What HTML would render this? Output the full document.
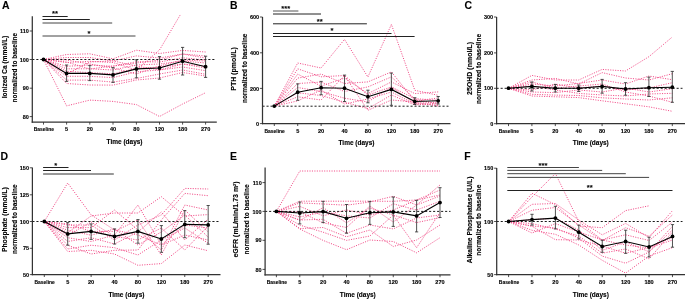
<!DOCTYPE html>
<html><head><meta charset="utf-8"><style>
html,body{margin:0;padding:0;background:#fff;}
body{width:685px;height:299px;overflow:hidden;}
svg{display:block;font-family:"Liberation Sans", sans-serif;will-change:transform;}
</style></head><body>
<svg width="685" height="299" viewBox="0 0 685 299">
<rect width="685" height="299" fill="#fff"/>
<text transform="translate(1.9,8.6) scale(0.9,1)" font-size="11.6" font-weight="bold" text-anchor="start" fill="#000"  stroke="#000" stroke-width="0.12">A</text>
<text transform="translate(6.8,67.1) rotate(-90)" textLength="62.40" lengthAdjust="spacingAndGlyphs" font-size="7.3" font-weight="bold" text-anchor="middle" fill="#000"  stroke="#000" stroke-width="0.12">Ionized Ca (mmol/L)</text>
<text transform="translate(16.5,67.75) rotate(-90)" textLength="69.50" lengthAdjust="spacingAndGlyphs" font-size="7.3" font-weight="bold" text-anchor="middle" fill="#000"  stroke="#000" stroke-width="0.12">normalized to baseline</text>
<clipPath id="cA"><rect x="32.3" y="14.8" width="184.5" height="107.4"/></clipPath>
<g clip-path="url(#cA)">
<polyline points="43.5,59.5 66.6,54.5 89.8,53.8 113.0,58.8 136.4,50.2 159.5,53.5 182.6,50.4 205.6,52.0" fill="none" stroke="#f2508a" stroke-width="1" stroke-dasharray="1.1 1.35"/>
<polyline points="43.5,59.5 66.6,57.5 89.8,57.5 113.0,60.9 136.4,55.9 159.5,58.0 182.6,54.0 205.6,56.0" fill="none" stroke="#f2508a" stroke-width="1" stroke-dasharray="1.1 1.35"/>
<polyline points="43.5,59.5 66.6,62.5 89.8,61.3 113.0,62.5 136.4,70.0 159.5,50.0 182.6,10.9" fill="none" stroke="#f2508a" stroke-width="1" stroke-dasharray="1.1 1.35"/>
<polyline points="43.5,59.5 66.6,66.3 89.8,65.0 113.0,66.3 136.4,61.7 159.5,62.0 182.6,57.8 205.6,60.0" fill="none" stroke="#f2508a" stroke-width="1" stroke-dasharray="1.1 1.35"/>
<polyline points="43.5,59.5 66.6,68.8 89.8,68.8 113.0,70.0 136.4,65.0 159.5,64.0 182.6,61.0 205.6,63.0" fill="none" stroke="#f2508a" stroke-width="1" stroke-dasharray="1.1 1.35"/>
<polyline points="43.5,59.5 66.6,71.3 89.8,72.6 113.0,73.8 136.4,68.4 159.5,67.0 182.6,64.0 205.6,66.0" fill="none" stroke="#f2508a" stroke-width="1" stroke-dasharray="1.1 1.35"/>
<polyline points="43.5,59.5 66.6,76.3 89.8,76.3 113.0,77.6 136.4,71.8 159.5,70.0 182.6,67.0 205.6,70.7" fill="none" stroke="#f2508a" stroke-width="1" stroke-dasharray="1.1 1.35"/>
<polyline points="43.5,59.5 66.6,80.1 89.8,80.1 113.0,82.1 136.4,78.5 159.5,74.0 182.6,70.0 205.6,74.3" fill="none" stroke="#f2508a" stroke-width="1" stroke-dasharray="1.1 1.35"/>
<polyline points="43.5,59.5 66.6,83.5 89.8,85.0 113.0,85.1 136.4,80.0 159.5,78.0 182.6,72.5 205.6,76.0" fill="none" stroke="#f2508a" stroke-width="1" stroke-dasharray="1.1 1.35"/>
<polyline points="43.5,59.5 66.6,105.9 89.8,100.1 113.0,101.4 136.4,104.6 159.5,116.5 182.6,104.0 205.6,92.7" fill="none" stroke="#f2508a" stroke-width="1" stroke-dasharray="1.1 1.35"/>
<polyline points="43.5,59.5 66.6,62.0 89.8,69.0 113.0,66.0 136.4,63.0 159.5,60.0 182.6,54.0 205.6,58.0" fill="none" stroke="#f2508a" stroke-width="1" stroke-dasharray="1.1 1.35"/>
<polyline points="43.5,59.5 66.6,74.0 89.8,62.0 113.0,60.9 136.4,66.0 159.5,70.0 182.6,64.0 205.6,68.0" fill="none" stroke="#f2508a" stroke-width="1" stroke-dasharray="1.1 1.35"/>
<polyline points="43.5,59.5 66.6,60.0 89.8,64.0 113.0,68.0 136.4,74.0 159.5,66.0 182.6,60.0 205.6,61.0" fill="none" stroke="#f2508a" stroke-width="1" stroke-dasharray="1.1 1.35"/>
</g>
<line x1="32.30" y1="59.50" x2="216.30" y2="59.50" stroke="#000" stroke-width="0.9" stroke-dasharray="2.1 1.9"/>
<line x1="66.60" y1="65.00" x2="66.60" y2="81.40" stroke="#333" stroke-width="0.85" />
<line x1="65.00" y1="65.00" x2="68.20" y2="65.00" stroke="#333" stroke-width="0.85" />
<line x1="65.00" y1="81.40" x2="68.20" y2="81.40" stroke="#333" stroke-width="0.85" />
<line x1="89.80" y1="65.60" x2="89.80" y2="80.60" stroke="#333" stroke-width="0.85" />
<line x1="88.20" y1="65.60" x2="91.40" y2="65.60" stroke="#333" stroke-width="0.85" />
<line x1="88.20" y1="80.60" x2="91.40" y2="80.60" stroke="#333" stroke-width="0.85" />
<line x1="113.00" y1="67.60" x2="113.00" y2="82.40" stroke="#333" stroke-width="0.85" />
<line x1="111.40" y1="67.60" x2="114.60" y2="67.60" stroke="#333" stroke-width="0.85" />
<line x1="111.40" y1="82.40" x2="114.60" y2="82.40" stroke="#333" stroke-width="0.85" />
<line x1="136.40" y1="59.90" x2="136.40" y2="77.80" stroke="#333" stroke-width="0.85" />
<line x1="134.80" y1="59.90" x2="138.00" y2="59.90" stroke="#333" stroke-width="0.85" />
<line x1="134.80" y1="77.80" x2="138.00" y2="77.80" stroke="#333" stroke-width="0.85" />
<line x1="159.50" y1="56.60" x2="159.50" y2="79.20" stroke="#333" stroke-width="0.85" />
<line x1="157.90" y1="56.60" x2="161.10" y2="56.60" stroke="#333" stroke-width="0.85" />
<line x1="157.90" y1="79.20" x2="161.10" y2="79.20" stroke="#333" stroke-width="0.85" />
<line x1="182.60" y1="47.40" x2="182.60" y2="75.00" stroke="#333" stroke-width="0.85" />
<line x1="181.00" y1="47.40" x2="184.20" y2="47.40" stroke="#333" stroke-width="0.85" />
<line x1="181.00" y1="75.00" x2="184.20" y2="75.00" stroke="#333" stroke-width="0.85" />
<line x1="205.60" y1="56.20" x2="205.60" y2="77.40" stroke="#333" stroke-width="0.85" />
<line x1="204.00" y1="56.20" x2="207.20" y2="56.20" stroke="#333" stroke-width="0.85" />
<line x1="204.00" y1="77.40" x2="207.20" y2="77.40" stroke="#333" stroke-width="0.85" />
<polyline points="43.5,59.5 66.6,73.4 89.8,73.4 113.0,74.9 136.4,68.9 159.5,68.0 182.6,61.2 205.6,66.7" fill="none" stroke="#000" stroke-width="1.1"/>
<circle cx="43.5" cy="59.5" r="1.9" fill="#000"/>
<circle cx="66.6" cy="73.4" r="1.9" fill="#000"/>
<circle cx="89.8" cy="73.4" r="1.9" fill="#000"/>
<circle cx="113.0" cy="74.9" r="1.9" fill="#000"/>
<circle cx="136.4" cy="68.9" r="1.9" fill="#000"/>
<circle cx="159.5" cy="68.0" r="1.9" fill="#000"/>
<circle cx="182.6" cy="61.2" r="1.9" fill="#000"/>
<circle cx="205.6" cy="66.7" r="1.9" fill="#000"/>
<line x1="32.30" y1="16.30" x2="32.30" y2="122.80" stroke="#333" stroke-width="1.25" />
<line x1="31.70" y1="122.20" x2="216.80" y2="122.20" stroke="#333" stroke-width="1.25" />
<line x1="29.70" y1="116.60" x2="32.30" y2="116.60" stroke="#222" stroke-width="0.8" />
<text x="28.90" y="118.70" font-size="5.5" font-weight="bold" text-anchor="end" fill="#000"  stroke="#000" stroke-width="0.12">80</text>
<line x1="29.70" y1="88.20" x2="32.30" y2="88.20" stroke="#222" stroke-width="0.8" />
<text x="28.90" y="90.30" font-size="5.5" font-weight="bold" text-anchor="end" fill="#000"  stroke="#000" stroke-width="0.12">90</text>
<line x1="29.70" y1="59.50" x2="32.30" y2="59.50" stroke="#222" stroke-width="0.8" />
<text x="28.90" y="61.60" font-size="5.5" font-weight="bold" text-anchor="end" fill="#000"  stroke="#000" stroke-width="0.12">100</text>
<line x1="29.70" y1="31.00" x2="32.30" y2="31.00" stroke="#222" stroke-width="0.8" />
<text x="28.90" y="33.10" font-size="5.5" font-weight="bold" text-anchor="end" fill="#000"  stroke="#000" stroke-width="0.12">110</text>
<line x1="43.50" y1="122.20" x2="43.50" y2="124.60" stroke="#222" stroke-width="0.8" />
<text x="43.90" y="130.80" textLength="20.30" lengthAdjust="spacingAndGlyphs" font-size="5.3" font-weight="bold" text-anchor="middle" fill="#000"  stroke="#000" stroke-width="0.12">Baseline</text>
<line x1="66.60" y1="122.20" x2="66.60" y2="124.60" stroke="#222" stroke-width="0.8" />
<text x="66.60" y="131.00" font-size="5.6" font-weight="bold" text-anchor="middle" fill="#000"  stroke="#000" stroke-width="0.12">5</text>
<line x1="89.80" y1="122.20" x2="89.80" y2="124.60" stroke="#222" stroke-width="0.8" />
<text x="89.80" y="131.00" font-size="5.6" font-weight="bold" text-anchor="middle" fill="#000"  stroke="#000" stroke-width="0.12">20</text>
<line x1="113.00" y1="122.20" x2="113.00" y2="124.60" stroke="#222" stroke-width="0.8" />
<text x="113.00" y="131.00" font-size="5.6" font-weight="bold" text-anchor="middle" fill="#000"  stroke="#000" stroke-width="0.12">40</text>
<line x1="136.40" y1="122.20" x2="136.40" y2="124.60" stroke="#222" stroke-width="0.8" />
<text x="136.40" y="131.00" font-size="5.6" font-weight="bold" text-anchor="middle" fill="#000"  stroke="#000" stroke-width="0.12">80</text>
<line x1="159.50" y1="122.20" x2="159.50" y2="124.60" stroke="#222" stroke-width="0.8" />
<text x="159.50" y="131.00" font-size="5.6" font-weight="bold" text-anchor="middle" fill="#000"  stroke="#000" stroke-width="0.12">120</text>
<line x1="182.60" y1="122.20" x2="182.60" y2="124.60" stroke="#222" stroke-width="0.8" />
<text x="182.60" y="131.00" font-size="5.6" font-weight="bold" text-anchor="middle" fill="#000"  stroke="#000" stroke-width="0.12">180</text>
<line x1="205.60" y1="122.20" x2="205.60" y2="124.60" stroke="#222" stroke-width="0.8" />
<text x="205.60" y="131.00" font-size="5.6" font-weight="bold" text-anchor="middle" fill="#000"  stroke="#000" stroke-width="0.12">270</text>
<text x="124.55" y="143.80" textLength="36.00" lengthAdjust="spacingAndGlyphs" font-size="6.5" font-weight="bold" text-anchor="middle" fill="#000"  stroke="#000" stroke-width="0.12">Time (days)</text>
<line x1="42.50" y1="16.50" x2="67.70" y2="16.50" stroke="#222" stroke-width="1" />
<line x1="42.50" y1="19.50" x2="89.80" y2="19.50" stroke="#222" stroke-width="1" />
<line x1="42.50" y1="23.00" x2="112.20" y2="23.00" stroke="#444" stroke-width="1" />
<line x1="42.50" y1="36.00" x2="135.50" y2="36.00" stroke="#444" stroke-width="1" />
<text x="55.00" y="16.00" font-size="7.6" font-weight="bold" text-anchor="middle" fill="#000"  stroke="#000" stroke-width="0.12">**</text>
<text x="89.00" y="35.50" font-size="7.6" font-weight="bold" text-anchor="middle" fill="#000"  stroke="#000" stroke-width="0.12">*</text>
<text transform="translate(229.9,8.6) scale(0.9,1)" font-size="11.6" font-weight="bold" text-anchor="start" fill="#000"  stroke="#000" stroke-width="0.12">B</text>
<text transform="translate(236.1,69) rotate(-90)" textLength="43.50" lengthAdjust="spacingAndGlyphs" font-size="7.3" font-weight="bold" text-anchor="middle" fill="#000"  stroke="#000" stroke-width="0.12">PTH (pmol/L)</text>
<text transform="translate(246.7,68.3) rotate(-90)" textLength="69.50" lengthAdjust="spacingAndGlyphs" font-size="7.3" font-weight="bold" text-anchor="middle" fill="#000"  stroke="#000" stroke-width="0.12">normalized to baseline</text>
<clipPath id="cB"><rect x="262.5" y="15.5" width="188.0" height="108.1"/></clipPath>
<g clip-path="url(#cB)">
<polyline points="274.3,106.1 297.7,68.8 321.1,76.8 344.5,75.5 367.9,95.0 391.4,86.9 414.8,98.6 438.2,100.3" fill="none" stroke="#f2508a" stroke-width="1" stroke-dasharray="1.1 1.35"/>
<polyline points="274.3,106.1 297.7,63.0 321.1,68.0 344.5,39.4 367.9,77.0 391.4,24.4 414.8,90.3 438.2,95.3" fill="none" stroke="#f2508a" stroke-width="1" stroke-dasharray="1.1 1.35"/>
<polyline points="274.3,106.1 297.7,74.1 321.1,86.1 344.5,78.1 367.9,93.6 391.4,81.9 414.8,93.6 438.2,91.9" fill="none" stroke="#f2508a" stroke-width="1" stroke-dasharray="1.1 1.35"/>
<polyline points="274.3,106.1 297.7,78.1 321.1,74.1 344.5,83.5 367.9,81.9 391.4,71.9 414.8,101.0 438.2,98.0" fill="none" stroke="#f2508a" stroke-width="1" stroke-dasharray="1.1 1.35"/>
<polyline points="274.3,106.1 297.7,83.5 321.1,82.1 344.5,91.5 367.9,86.9 391.4,76.9 414.8,99.0 438.2,104.0" fill="none" stroke="#f2508a" stroke-width="1" stroke-dasharray="1.1 1.35"/>
<polyline points="274.3,106.1 297.7,87.5 321.1,91.5 344.5,98.2 367.9,102.0 391.4,86.9 414.8,103.5 438.2,102.0" fill="none" stroke="#f2508a" stroke-width="1" stroke-dasharray="1.1 1.35"/>
<polyline points="274.3,106.1 297.7,92.8 321.1,95.5 344.5,102.2 367.9,108.6 391.4,95.0 414.8,105.0 438.2,103.0" fill="none" stroke="#f2508a" stroke-width="1" stroke-dasharray="1.1 1.35"/>
<polyline points="274.3,106.1 297.7,96.8 321.1,100.0 344.5,75.5 367.9,110.3 391.4,100.0 414.8,102.0 438.2,106.0" fill="none" stroke="#f2508a" stroke-width="1" stroke-dasharray="1.1 1.35"/>
<polyline points="274.3,106.1 297.7,100.9 321.1,90.0 344.5,104.0 367.9,99.0 391.4,92.0 414.8,104.0 438.2,105.0" fill="none" stroke="#f2508a" stroke-width="1" stroke-dasharray="1.1 1.35"/>
</g>
<line x1="262.50" y1="106.20" x2="448.50" y2="106.20" stroke="#000" stroke-width="0.9" stroke-dasharray="2.1 1.9"/>
<line x1="297.71" y1="83.90" x2="297.71" y2="100.30" stroke="#333" stroke-width="0.85" />
<line x1="296.11" y1="83.90" x2="299.31" y2="83.90" stroke="#333" stroke-width="0.85" />
<line x1="296.11" y1="100.30" x2="299.31" y2="100.30" stroke="#333" stroke-width="0.85" />
<line x1="321.12" y1="81.40" x2="321.12" y2="94.70" stroke="#333" stroke-width="0.85" />
<line x1="319.52" y1="81.40" x2="322.72" y2="81.40" stroke="#333" stroke-width="0.85" />
<line x1="319.52" y1="94.70" x2="322.72" y2="94.70" stroke="#333" stroke-width="0.85" />
<line x1="344.53" y1="75.10" x2="344.53" y2="101.50" stroke="#333" stroke-width="0.85" />
<line x1="342.93" y1="75.10" x2="346.13" y2="75.10" stroke="#333" stroke-width="0.85" />
<line x1="342.93" y1="101.50" x2="346.13" y2="101.50" stroke="#333" stroke-width="0.85" />
<line x1="367.94" y1="90.20" x2="367.94" y2="102.80" stroke="#333" stroke-width="0.85" />
<line x1="366.34" y1="90.20" x2="369.54" y2="90.20" stroke="#333" stroke-width="0.85" />
<line x1="366.34" y1="102.80" x2="369.54" y2="102.80" stroke="#333" stroke-width="0.85" />
<line x1="391.35" y1="73.10" x2="391.35" y2="105.30" stroke="#333" stroke-width="0.85" />
<line x1="389.75" y1="73.10" x2="392.95" y2="73.10" stroke="#333" stroke-width="0.85" />
<line x1="389.75" y1="105.30" x2="392.95" y2="105.30" stroke="#333" stroke-width="0.85" />
<line x1="414.76" y1="97.70" x2="414.76" y2="104.50" stroke="#333" stroke-width="0.85" />
<line x1="413.16" y1="97.70" x2="416.36" y2="97.70" stroke="#333" stroke-width="0.85" />
<line x1="413.16" y1="104.50" x2="416.36" y2="104.50" stroke="#333" stroke-width="0.85" />
<line x1="438.17" y1="96.50" x2="438.17" y2="104.00" stroke="#333" stroke-width="0.85" />
<line x1="436.57" y1="96.50" x2="439.77" y2="96.50" stroke="#333" stroke-width="0.85" />
<line x1="436.57" y1="104.00" x2="439.77" y2="104.00" stroke="#333" stroke-width="0.85" />
<polyline points="274.3,106.1 297.7,92.2 321.1,87.7 344.5,88.2 367.9,96.7 391.4,89.4 414.8,101.5 438.2,100.8" fill="none" stroke="#000" stroke-width="1.1"/>
<circle cx="274.3" cy="106.1" r="1.9" fill="#000"/>
<circle cx="297.7" cy="92.2" r="1.9" fill="#000"/>
<circle cx="321.1" cy="87.7" r="1.9" fill="#000"/>
<circle cx="344.5" cy="88.2" r="1.9" fill="#000"/>
<circle cx="367.9" cy="96.7" r="1.9" fill="#000"/>
<circle cx="391.4" cy="89.4" r="1.9" fill="#000"/>
<circle cx="414.8" cy="101.5" r="1.9" fill="#000"/>
<circle cx="438.2" cy="100.8" r="1.9" fill="#000"/>
<line x1="262.50" y1="17.00" x2="262.50" y2="124.20" stroke="#333" stroke-width="1.25" />
<line x1="261.90" y1="123.60" x2="450.50" y2="123.60" stroke="#333" stroke-width="1.25" />
<line x1="259.90" y1="123.60" x2="262.50" y2="123.60" stroke="#222" stroke-width="0.8" />
<text x="259.10" y="125.70" font-size="5.5" font-weight="bold" text-anchor="end" fill="#000"  stroke="#000" stroke-width="0.12">0</text>
<line x1="259.90" y1="88.40" x2="262.50" y2="88.40" stroke="#222" stroke-width="0.8" />
<text x="259.10" y="90.50" font-size="5.5" font-weight="bold" text-anchor="end" fill="#000"  stroke="#000" stroke-width="0.12">200</text>
<line x1="259.90" y1="52.80" x2="262.50" y2="52.80" stroke="#222" stroke-width="0.8" />
<text x="259.10" y="54.90" font-size="5.5" font-weight="bold" text-anchor="end" fill="#000"  stroke="#000" stroke-width="0.12">400</text>
<line x1="259.90" y1="17.00" x2="262.50" y2="17.00" stroke="#222" stroke-width="0.8" />
<text x="259.10" y="19.10" font-size="5.5" font-weight="bold" text-anchor="end" fill="#000"  stroke="#000" stroke-width="0.12">600</text>
<line x1="274.30" y1="123.60" x2="274.30" y2="126.00" stroke="#222" stroke-width="0.8" />
<text x="274.70" y="132.50" textLength="20.30" lengthAdjust="spacingAndGlyphs" font-size="5.3" font-weight="bold" text-anchor="middle" fill="#000"  stroke="#000" stroke-width="0.12">Baseline</text>
<line x1="297.71" y1="123.60" x2="297.71" y2="126.00" stroke="#222" stroke-width="0.8" />
<text x="297.71" y="132.70" font-size="5.6" font-weight="bold" text-anchor="middle" fill="#000"  stroke="#000" stroke-width="0.12">5</text>
<line x1="321.12" y1="123.60" x2="321.12" y2="126.00" stroke="#222" stroke-width="0.8" />
<text x="321.12" y="132.70" font-size="5.6" font-weight="bold" text-anchor="middle" fill="#000"  stroke="#000" stroke-width="0.12">20</text>
<line x1="344.53" y1="123.60" x2="344.53" y2="126.00" stroke="#222" stroke-width="0.8" />
<text x="344.53" y="132.70" font-size="5.6" font-weight="bold" text-anchor="middle" fill="#000"  stroke="#000" stroke-width="0.12">40</text>
<line x1="367.94" y1="123.60" x2="367.94" y2="126.00" stroke="#222" stroke-width="0.8" />
<text x="367.94" y="132.70" font-size="5.6" font-weight="bold" text-anchor="middle" fill="#000"  stroke="#000" stroke-width="0.12">80</text>
<line x1="391.35" y1="123.60" x2="391.35" y2="126.00" stroke="#222" stroke-width="0.8" />
<text x="391.35" y="132.70" font-size="5.6" font-weight="bold" text-anchor="middle" fill="#000"  stroke="#000" stroke-width="0.12">120</text>
<line x1="414.76" y1="123.60" x2="414.76" y2="126.00" stroke="#222" stroke-width="0.8" />
<text x="414.76" y="132.70" font-size="5.6" font-weight="bold" text-anchor="middle" fill="#000"  stroke="#000" stroke-width="0.12">180</text>
<line x1="438.17" y1="123.60" x2="438.17" y2="126.00" stroke="#222" stroke-width="0.8" />
<text x="438.17" y="132.70" font-size="5.6" font-weight="bold" text-anchor="middle" fill="#000"  stroke="#000" stroke-width="0.12">270</text>
<text x="356.50" y="145.40" textLength="36.00" lengthAdjust="spacingAndGlyphs" font-size="6.5" font-weight="bold" text-anchor="middle" fill="#000"  stroke="#000" stroke-width="0.12">Time (days)</text>
<line x1="273.00" y1="11.00" x2="298.40" y2="11.00" stroke="#555" stroke-width="1" />
<line x1="273.00" y1="14.00" x2="321.00" y2="14.00" stroke="#222" stroke-width="1" />
<line x1="273.00" y1="23.80" x2="366.90" y2="23.80" stroke="#222" stroke-width="1" />
<line x1="273.00" y1="33.50" x2="391.50" y2="33.50" stroke="#222" stroke-width="1" />
<line x1="273.00" y1="36.50" x2="414.60" y2="36.50" stroke="#222" stroke-width="1" />
<text x="285.80" y="10.70" font-size="7.6" font-weight="bold" text-anchor="middle" fill="#000"  stroke="#000" stroke-width="0.12">***</text>
<text x="319.70" y="23.50" font-size="7.6" font-weight="bold" text-anchor="middle" fill="#000"  stroke="#000" stroke-width="0.12">**</text>
<text x="332.00" y="33.10" font-size="7.6" font-weight="bold" text-anchor="middle" fill="#000"  stroke="#000" stroke-width="0.12">*</text>
<text transform="translate(464.5,8.6) scale(0.9,1)" font-size="11.6" font-weight="bold" text-anchor="start" fill="#000"  stroke="#000" stroke-width="0.12">C</text>
<text transform="translate(472.0,68.5) rotate(-90)" textLength="53.00" lengthAdjust="spacingAndGlyphs" font-size="7.3" font-weight="bold" text-anchor="middle" fill="#000"  stroke="#000" stroke-width="0.12">25OHD (nmol/L)</text>
<text transform="translate(481.4,69) rotate(-90)" textLength="70.00" lengthAdjust="spacingAndGlyphs" font-size="7.3" font-weight="bold" text-anchor="middle" fill="#000"  stroke="#000" stroke-width="0.12">normalized to baseline</text>
<clipPath id="cC"><rect x="496.6" y="15.5" width="188.39999999999998" height="108.2"/></clipPath>
<g clip-path="url(#cC)">
<polyline points="508.5,88.3 531.9,75.4 555.3,80.0 578.7,80.0 602.1,69.4 625.5,71.0 648.9,56.7 672.3,37.0" fill="none" stroke="#f2508a" stroke-width="1" stroke-dasharray="1.1 1.35"/>
<polyline points="508.5,88.3 531.9,96.0 555.3,96.8 578.7,97.6 602.1,100.8 625.5,103.8 648.9,106.8 672.3,111.3" fill="none" stroke="#f2508a" stroke-width="1" stroke-dasharray="1.1 1.35"/>
<polyline points="508.5,88.3 531.9,80.0 555.3,78.4 578.7,84.0 602.1,72.6 625.5,78.0 648.9,80.0 672.3,73.7" fill="none" stroke="#f2508a" stroke-width="1" stroke-dasharray="1.1 1.35"/>
<polyline points="508.5,88.3 531.9,84.0 555.3,86.0 578.7,83.4 602.1,80.0 625.5,84.0 648.9,76.0 672.3,79.7" fill="none" stroke="#f2508a" stroke-width="1" stroke-dasharray="1.1 1.35"/>
<polyline points="508.5,88.3 531.9,90.0 555.3,84.0 578.7,88.0 602.1,86.0 625.5,90.0 648.9,88.0 672.3,82.7" fill="none" stroke="#f2508a" stroke-width="1" stroke-dasharray="1.1 1.35"/>
<polyline points="508.5,88.3 531.9,92.0 555.3,92.6 578.7,90.0 602.1,92.0 625.5,88.0 648.9,92.0 672.3,88.7" fill="none" stroke="#f2508a" stroke-width="1" stroke-dasharray="1.1 1.35"/>
<polyline points="508.5,88.3 531.9,86.0 555.3,90.0 578.7,93.4 602.1,95.0 625.5,96.0 648.9,94.0 672.3,93.3" fill="none" stroke="#f2508a" stroke-width="1" stroke-dasharray="1.1 1.35"/>
<polyline points="508.5,88.3 531.9,94.3 555.3,95.1 578.7,95.5 602.1,97.8 625.5,99.0 648.9,100.0 672.3,97.8" fill="none" stroke="#f2508a" stroke-width="1" stroke-dasharray="1.1 1.35"/>
<polyline points="508.5,88.3 531.9,82.0 555.3,88.0 578.7,86.0 602.1,84.0 625.5,92.0 648.9,96.0 672.3,102.3" fill="none" stroke="#f2508a" stroke-width="1" stroke-dasharray="1.1 1.35"/>
</g>
<line x1="496.60" y1="88.30" x2="682.50" y2="88.30" stroke="#000" stroke-width="0.9" stroke-dasharray="2.1 1.9"/>
<line x1="531.90" y1="82.00" x2="531.90" y2="91.00" stroke="#333" stroke-width="0.85" />
<line x1="530.30" y1="82.00" x2="533.50" y2="82.00" stroke="#333" stroke-width="0.85" />
<line x1="530.30" y1="91.00" x2="533.50" y2="91.00" stroke="#333" stroke-width="0.85" />
<line x1="555.30" y1="84.50" x2="555.30" y2="92.00" stroke="#333" stroke-width="0.85" />
<line x1="553.70" y1="84.50" x2="556.90" y2="84.50" stroke="#333" stroke-width="0.85" />
<line x1="553.70" y1="92.00" x2="556.90" y2="92.00" stroke="#333" stroke-width="0.85" />
<line x1="578.70" y1="85.00" x2="578.70" y2="91.50" stroke="#333" stroke-width="0.85" />
<line x1="577.10" y1="85.00" x2="580.30" y2="85.00" stroke="#333" stroke-width="0.85" />
<line x1="577.10" y1="91.50" x2="580.30" y2="91.50" stroke="#333" stroke-width="0.85" />
<line x1="602.10" y1="79.40" x2="602.10" y2="93.20" stroke="#333" stroke-width="0.85" />
<line x1="600.50" y1="79.40" x2="603.70" y2="79.40" stroke="#333" stroke-width="0.85" />
<line x1="600.50" y1="93.20" x2="603.70" y2="93.20" stroke="#333" stroke-width="0.85" />
<line x1="625.50" y1="82.70" x2="625.50" y2="95.20" stroke="#333" stroke-width="0.85" />
<line x1="623.90" y1="82.70" x2="627.10" y2="82.70" stroke="#333" stroke-width="0.85" />
<line x1="623.90" y1="95.20" x2="627.10" y2="95.20" stroke="#333" stroke-width="0.85" />
<line x1="648.90" y1="77.10" x2="648.90" y2="96.50" stroke="#333" stroke-width="0.85" />
<line x1="647.30" y1="77.10" x2="650.50" y2="77.10" stroke="#333" stroke-width="0.85" />
<line x1="647.30" y1="96.50" x2="650.50" y2="96.50" stroke="#333" stroke-width="0.85" />
<line x1="672.30" y1="71.40" x2="672.30" y2="102.30" stroke="#333" stroke-width="0.85" />
<line x1="670.70" y1="71.40" x2="673.90" y2="71.40" stroke="#333" stroke-width="0.85" />
<line x1="670.70" y1="102.30" x2="673.90" y2="102.30" stroke="#333" stroke-width="0.85" />
<polyline points="508.5,88.2 531.9,86.4 555.3,88.2 578.7,88.2 602.1,86.4 625.5,89.0 648.9,87.7 672.3,87.2" fill="none" stroke="#000" stroke-width="1.1"/>
<circle cx="508.5" cy="88.2" r="1.9" fill="#000"/>
<circle cx="531.9" cy="86.4" r="1.9" fill="#000"/>
<circle cx="555.3" cy="88.2" r="1.9" fill="#000"/>
<circle cx="578.7" cy="88.2" r="1.9" fill="#000"/>
<circle cx="602.1" cy="86.4" r="1.9" fill="#000"/>
<circle cx="625.5" cy="89.0" r="1.9" fill="#000"/>
<circle cx="648.9" cy="87.7" r="1.9" fill="#000"/>
<circle cx="672.3" cy="87.2" r="1.9" fill="#000"/>
<line x1="496.60" y1="17.00" x2="496.60" y2="124.30" stroke="#333" stroke-width="1.25" />
<line x1="496.00" y1="123.70" x2="685.00" y2="123.70" stroke="#333" stroke-width="1.25" />
<line x1="494.00" y1="123.70" x2="496.60" y2="123.70" stroke="#222" stroke-width="0.8" />
<text x="493.20" y="125.80" font-size="5.5" font-weight="bold" text-anchor="end" fill="#000"  stroke="#000" stroke-width="0.12">0</text>
<line x1="494.00" y1="88.30" x2="496.60" y2="88.30" stroke="#222" stroke-width="0.8" />
<text x="493.20" y="90.40" font-size="5.5" font-weight="bold" text-anchor="end" fill="#000"  stroke="#000" stroke-width="0.12">100</text>
<line x1="494.00" y1="52.90" x2="496.60" y2="52.90" stroke="#222" stroke-width="0.8" />
<text x="493.20" y="55.00" font-size="5.5" font-weight="bold" text-anchor="end" fill="#000"  stroke="#000" stroke-width="0.12">200</text>
<line x1="494.00" y1="17.00" x2="496.60" y2="17.00" stroke="#222" stroke-width="0.8" />
<text x="493.20" y="19.10" font-size="5.5" font-weight="bold" text-anchor="end" fill="#000"  stroke="#000" stroke-width="0.12">300</text>
<line x1="508.50" y1="123.70" x2="508.50" y2="126.10" stroke="#222" stroke-width="0.8" />
<text x="508.90" y="132.60" textLength="20.30" lengthAdjust="spacingAndGlyphs" font-size="5.3" font-weight="bold" text-anchor="middle" fill="#000"  stroke="#000" stroke-width="0.12">Baseline</text>
<line x1="531.90" y1="123.70" x2="531.90" y2="126.10" stroke="#222" stroke-width="0.8" />
<text x="531.90" y="132.80" font-size="5.6" font-weight="bold" text-anchor="middle" fill="#000"  stroke="#000" stroke-width="0.12">5</text>
<line x1="555.30" y1="123.70" x2="555.30" y2="126.10" stroke="#222" stroke-width="0.8" />
<text x="555.30" y="132.80" font-size="5.6" font-weight="bold" text-anchor="middle" fill="#000"  stroke="#000" stroke-width="0.12">20</text>
<line x1="578.70" y1="123.70" x2="578.70" y2="126.10" stroke="#222" stroke-width="0.8" />
<text x="578.70" y="132.80" font-size="5.6" font-weight="bold" text-anchor="middle" fill="#000"  stroke="#000" stroke-width="0.12">40</text>
<line x1="602.10" y1="123.70" x2="602.10" y2="126.10" stroke="#222" stroke-width="0.8" />
<text x="602.10" y="132.80" font-size="5.6" font-weight="bold" text-anchor="middle" fill="#000"  stroke="#000" stroke-width="0.12">80</text>
<line x1="625.50" y1="123.70" x2="625.50" y2="126.10" stroke="#222" stroke-width="0.8" />
<text x="625.50" y="132.80" font-size="5.6" font-weight="bold" text-anchor="middle" fill="#000"  stroke="#000" stroke-width="0.12">120</text>
<line x1="648.90" y1="123.70" x2="648.90" y2="126.10" stroke="#222" stroke-width="0.8" />
<text x="648.90" y="132.80" font-size="5.6" font-weight="bold" text-anchor="middle" fill="#000"  stroke="#000" stroke-width="0.12">180</text>
<line x1="672.30" y1="123.70" x2="672.30" y2="126.10" stroke="#222" stroke-width="0.8" />
<text x="672.30" y="132.80" font-size="5.6" font-weight="bold" text-anchor="middle" fill="#000"  stroke="#000" stroke-width="0.12">270</text>
<text x="590.80" y="145.40" textLength="36.00" lengthAdjust="spacingAndGlyphs" font-size="6.5" font-weight="bold" text-anchor="middle" fill="#000"  stroke="#000" stroke-width="0.12">Time (days)</text>
<text transform="translate(0.6,159.5) scale(0.9,1)" font-size="11.6" font-weight="bold" text-anchor="start" fill="#000"  stroke="#000" stroke-width="0.12">D</text>
<text transform="translate(6.9,219.7) rotate(-90)" textLength="64.80" lengthAdjust="spacingAndGlyphs" font-size="7.3" font-weight="bold" text-anchor="middle" fill="#000"  stroke="#000" stroke-width="0.12">Phosphate (mmol/L)</text>
<text transform="translate(16.7,219.2) rotate(-90)" textLength="69.50" lengthAdjust="spacingAndGlyphs" font-size="7.3" font-weight="bold" text-anchor="middle" fill="#000"  stroke="#000" stroke-width="0.12">normalized to baseline</text>
<clipPath id="cD"><rect x="32.4" y="166.1" width="188.1" height="108.50000000000003"/></clipPath>
<g clip-path="url(#cD)">
<polyline points="44.3,221.5 67.7,183.0 91.1,214.8 114.5,230.0 137.9,235.0 161.3,245.0 184.8,235.0 208.2,240.0" fill="none" stroke="#f2508a" stroke-width="1" stroke-dasharray="1.1 1.35"/>
<polyline points="44.3,221.5 67.7,225.0 91.1,225.0 114.5,240.0 137.9,225.0 161.3,215.0 184.8,188.4 208.2,189.0" fill="none" stroke="#f2508a" stroke-width="1" stroke-dasharray="1.1 1.35"/>
<polyline points="44.3,221.5 67.7,251.5 91.1,250.3 114.5,254.0 137.9,265.3 161.3,263.6 184.8,245.0 208.2,250.8" fill="none" stroke="#f2508a" stroke-width="1" stroke-dasharray="1.1 1.35"/>
<polyline points="44.3,221.5 67.7,232.7 91.1,216.0 114.5,213.0 137.9,213.0 161.3,196.7 184.8,216.0 208.2,214.6" fill="none" stroke="#f2508a" stroke-width="1" stroke-dasharray="1.1 1.35"/>
<polyline points="44.3,221.5 67.7,237.7 91.1,241.5 114.5,235.0 137.9,205.0 161.3,245.0 184.8,225.0 208.2,228.0" fill="none" stroke="#f2508a" stroke-width="1" stroke-dasharray="1.1 1.35"/>
<polyline points="44.3,221.5 67.7,245.2 91.1,254.0 114.5,250.3 137.9,250.0 161.3,220.0 184.8,193.4 208.2,195.7" fill="none" stroke="#f2508a" stroke-width="1" stroke-dasharray="1.1 1.35"/>
<polyline points="44.3,221.5 67.7,227.6 91.1,227.6 114.5,210.0 137.9,230.0 161.3,250.0 184.8,205.0 208.2,210.0" fill="none" stroke="#f2508a" stroke-width="1" stroke-dasharray="1.1 1.35"/>
<polyline points="44.3,221.5 67.7,241.5 91.1,237.7 114.5,244.0 137.9,232.0 161.3,212.0 184.8,240.0 208.2,219.0" fill="none" stroke="#f2508a" stroke-width="1" stroke-dasharray="1.1 1.35"/>
<polyline points="44.3,221.5 67.7,230.2 91.1,235.2 114.5,228.9 137.9,245.0 161.3,232.0 184.8,215.0 208.2,237.2" fill="none" stroke="#f2508a" stroke-width="1" stroke-dasharray="1.1 1.35"/>
<polyline points="44.3,221.5 67.7,249.0 91.1,245.2 114.5,247.7 137.9,255.0 161.3,240.0 184.8,228.0 208.2,243.2" fill="none" stroke="#f2508a" stroke-width="1" stroke-dasharray="1.1 1.35"/>
<polyline points="44.3,221.5 67.7,223.9 91.1,231.4 114.5,231.4 137.9,220.0 161.3,255.0 184.8,210.0 208.2,232.0" fill="none" stroke="#f2508a" stroke-width="1" stroke-dasharray="1.1 1.35"/>
<polyline points="44.3,221.5 67.7,235.2 91.1,222.0 114.5,236.4 137.9,240.0 161.3,228.0 184.8,250.0 208.2,226.0" fill="none" stroke="#f2508a" stroke-width="1" stroke-dasharray="1.1 1.35"/>
</g>
<line x1="32.40" y1="221.50" x2="218.80" y2="221.50" stroke="#000" stroke-width="0.9" stroke-dasharray="2.1 1.9"/>
<line x1="67.71" y1="222.60" x2="67.71" y2="245.20" stroke="#333" stroke-width="0.85" />
<line x1="66.11" y1="222.60" x2="69.31" y2="222.60" stroke="#333" stroke-width="0.85" />
<line x1="66.11" y1="245.20" x2="69.31" y2="245.20" stroke="#333" stroke-width="0.85" />
<line x1="91.12" y1="223.90" x2="91.12" y2="239.40" stroke="#333" stroke-width="0.85" />
<line x1="89.52" y1="223.90" x2="92.72" y2="223.90" stroke="#333" stroke-width="0.85" />
<line x1="89.52" y1="239.40" x2="92.72" y2="239.40" stroke="#333" stroke-width="0.85" />
<line x1="114.53" y1="228.90" x2="114.53" y2="244.00" stroke="#333" stroke-width="0.85" />
<line x1="112.93" y1="228.90" x2="116.13" y2="228.90" stroke="#333" stroke-width="0.85" />
<line x1="112.93" y1="244.00" x2="116.13" y2="244.00" stroke="#333" stroke-width="0.85" />
<line x1="137.94" y1="219.60" x2="137.94" y2="243.20" stroke="#333" stroke-width="0.85" />
<line x1="136.34" y1="219.60" x2="139.54" y2="219.60" stroke="#333" stroke-width="0.85" />
<line x1="136.34" y1="243.20" x2="139.54" y2="243.20" stroke="#333" stroke-width="0.85" />
<line x1="161.35" y1="225.60" x2="161.35" y2="252.30" stroke="#333" stroke-width="0.85" />
<line x1="159.75" y1="225.60" x2="162.95" y2="225.60" stroke="#333" stroke-width="0.85" />
<line x1="159.75" y1="252.30" x2="162.95" y2="252.30" stroke="#333" stroke-width="0.85" />
<line x1="184.76" y1="210.60" x2="184.76" y2="237.70" stroke="#333" stroke-width="0.85" />
<line x1="183.16" y1="210.60" x2="186.36" y2="210.60" stroke="#333" stroke-width="0.85" />
<line x1="183.16" y1="237.70" x2="186.36" y2="237.70" stroke="#333" stroke-width="0.85" />
<line x1="208.17" y1="205.50" x2="208.17" y2="244.20" stroke="#333" stroke-width="0.85" />
<line x1="206.57" y1="205.50" x2="209.77" y2="205.50" stroke="#333" stroke-width="0.85" />
<line x1="206.57" y1="244.20" x2="209.77" y2="244.20" stroke="#333" stroke-width="0.85" />
<polyline points="44.3,221.5 67.7,233.9 91.1,231.4 114.5,236.4 137.9,231.4 161.3,239.0 184.8,224.4 208.2,224.9" fill="none" stroke="#000" stroke-width="1.1"/>
<circle cx="44.3" cy="221.5" r="1.9" fill="#000"/>
<circle cx="67.7" cy="233.9" r="1.9" fill="#000"/>
<circle cx="91.1" cy="231.4" r="1.9" fill="#000"/>
<circle cx="114.5" cy="236.4" r="1.9" fill="#000"/>
<circle cx="137.9" cy="231.4" r="1.9" fill="#000"/>
<circle cx="161.3" cy="239.0" r="1.9" fill="#000"/>
<circle cx="184.8" cy="224.4" r="1.9" fill="#000"/>
<circle cx="208.2" cy="224.9" r="1.9" fill="#000"/>
<line x1="32.40" y1="167.60" x2="32.40" y2="275.20" stroke="#333" stroke-width="1.25" />
<line x1="31.80" y1="274.60" x2="220.50" y2="274.60" stroke="#333" stroke-width="1.25" />
<line x1="29.80" y1="274.60" x2="32.40" y2="274.60" stroke="#222" stroke-width="0.8" />
<text x="29.00" y="276.70" font-size="5.5" font-weight="bold" text-anchor="end" fill="#000"  stroke="#000" stroke-width="0.12">50</text>
<line x1="29.80" y1="248.30" x2="32.40" y2="248.30" stroke="#222" stroke-width="0.8" />
<text x="29.00" y="250.40" font-size="5.5" font-weight="bold" text-anchor="end" fill="#000"  stroke="#000" stroke-width="0.12">75</text>
<line x1="29.80" y1="221.50" x2="32.40" y2="221.50" stroke="#222" stroke-width="0.8" />
<text x="29.00" y="223.60" font-size="5.5" font-weight="bold" text-anchor="end" fill="#000"  stroke="#000" stroke-width="0.12">100</text>
<line x1="29.80" y1="194.80" x2="32.40" y2="194.80" stroke="#222" stroke-width="0.8" />
<text x="29.00" y="196.90" font-size="5.5" font-weight="bold" text-anchor="end" fill="#000"  stroke="#000" stroke-width="0.12">125</text>
<line x1="29.80" y1="167.80" x2="32.40" y2="167.80" stroke="#222" stroke-width="0.8" />
<text x="29.00" y="169.90" font-size="5.5" font-weight="bold" text-anchor="end" fill="#000"  stroke="#000" stroke-width="0.12">150</text>
<line x1="44.30" y1="274.60" x2="44.30" y2="277.00" stroke="#222" stroke-width="0.8" />
<text x="44.70" y="283.80" textLength="20.30" lengthAdjust="spacingAndGlyphs" font-size="5.3" font-weight="bold" text-anchor="middle" fill="#000"  stroke="#000" stroke-width="0.12">Baseline</text>
<line x1="67.71" y1="274.60" x2="67.71" y2="277.00" stroke="#222" stroke-width="0.8" />
<text x="67.71" y="284.00" font-size="5.6" font-weight="bold" text-anchor="middle" fill="#000"  stroke="#000" stroke-width="0.12">5</text>
<line x1="91.12" y1="274.60" x2="91.12" y2="277.00" stroke="#222" stroke-width="0.8" />
<text x="91.12" y="284.00" font-size="5.6" font-weight="bold" text-anchor="middle" fill="#000"  stroke="#000" stroke-width="0.12">20</text>
<line x1="114.53" y1="274.60" x2="114.53" y2="277.00" stroke="#222" stroke-width="0.8" />
<text x="114.53" y="284.00" font-size="5.6" font-weight="bold" text-anchor="middle" fill="#000"  stroke="#000" stroke-width="0.12">40</text>
<line x1="137.94" y1="274.60" x2="137.94" y2="277.00" stroke="#222" stroke-width="0.8" />
<text x="137.94" y="284.00" font-size="5.6" font-weight="bold" text-anchor="middle" fill="#000"  stroke="#000" stroke-width="0.12">80</text>
<line x1="161.35" y1="274.60" x2="161.35" y2="277.00" stroke="#222" stroke-width="0.8" />
<text x="161.35" y="284.00" font-size="5.6" font-weight="bold" text-anchor="middle" fill="#000"  stroke="#000" stroke-width="0.12">120</text>
<line x1="184.76" y1="274.60" x2="184.76" y2="277.00" stroke="#222" stroke-width="0.8" />
<text x="184.76" y="284.00" font-size="5.6" font-weight="bold" text-anchor="middle" fill="#000"  stroke="#000" stroke-width="0.12">180</text>
<line x1="208.17" y1="274.60" x2="208.17" y2="277.00" stroke="#222" stroke-width="0.8" />
<text x="208.17" y="284.00" font-size="5.6" font-weight="bold" text-anchor="middle" fill="#000"  stroke="#000" stroke-width="0.12">270</text>
<text x="126.45" y="296.80" textLength="36.00" lengthAdjust="spacingAndGlyphs" font-size="6.5" font-weight="bold" text-anchor="middle" fill="#000"  stroke="#000" stroke-width="0.12">Time (days)</text>
<line x1="43.10" y1="167.50" x2="68.50" y2="167.50" stroke="#222" stroke-width="1" />
<line x1="43.10" y1="170.50" x2="91.00" y2="170.50" stroke="#222" stroke-width="1" />
<line x1="43.10" y1="174.00" x2="113.80" y2="174.00" stroke="#333" stroke-width="1" />
<text x="55.80" y="167.50" font-size="7.6" font-weight="bold" text-anchor="middle" fill="#000"  stroke="#000" stroke-width="0.12">*</text>
<text transform="translate(229.9,159.5) scale(0.9,1)" font-size="11.6" font-weight="bold" text-anchor="start" fill="#000"  stroke="#000" stroke-width="0.12">E</text>
<text transform="translate(238.4,219.5) rotate(-90)" textLength="76.20" lengthAdjust="spacingAndGlyphs" font-size="7.3" font-weight="bold" text-anchor="middle" fill="#000"  stroke="#000" stroke-width="0.12">eGFR (mL/min/1.73 m<tspan font-size="4" dy="-2.5">2</tspan><tspan dy="2.5">)</tspan></text>
<text transform="translate(249.4,219.5) rotate(-90)" textLength="70.00" lengthAdjust="spacingAndGlyphs" font-size="7.3" font-weight="bold" text-anchor="middle" fill="#000"  stroke="#000" stroke-width="0.12">normalized to baseline</text>
<clipPath id="cE"><rect x="265.1" y="166.1" width="185.39999999999998" height="108.70000000000002"/></clipPath>
<g clip-path="url(#cE)">
<polyline points="276.4,211.4 299.8,171.0 323.1,171.0 346.5,171.0 369.9,171.0 393.2,171.0 416.6,171.0 440.0,171.0" fill="none" stroke="#f2508a" stroke-width="1" stroke-dasharray="1.1 1.35"/>
<polyline points="276.4,211.4 299.8,201.2 323.1,201.2 346.5,201.2 369.9,201.2 393.2,201.3 416.6,200.0 440.0,190.0" fill="none" stroke="#f2508a" stroke-width="1" stroke-dasharray="1.1 1.35"/>
<polyline points="276.4,211.4 299.8,229.0 323.1,240.4 346.5,249.7 369.9,240.0 393.2,241.5 416.6,252.8 440.0,237.7" fill="none" stroke="#f2508a" stroke-width="1" stroke-dasharray="1.1 1.35"/>
<polyline points="276.4,211.4 299.8,225.1 323.1,232.2 346.5,240.4 369.9,236.0 393.2,215.1 416.6,247.7 440.0,212.6" fill="none" stroke="#f2508a" stroke-width="1" stroke-dasharray="1.1 1.35"/>
<polyline points="276.4,211.4 299.8,202.9 323.1,204.0 346.5,205.2 369.9,202.0 393.2,196.3 416.6,205.0 440.0,185.0" fill="none" stroke="#f2508a" stroke-width="1" stroke-dasharray="1.1 1.35"/>
<polyline points="276.4,211.4 299.8,216.9 323.1,212.2 346.5,215.8 369.9,218.0 393.2,203.8 416.6,210.0 440.0,201.3" fill="none" stroke="#f2508a" stroke-width="1" stroke-dasharray="1.1 1.35"/>
<polyline points="276.4,211.4 299.8,220.4 323.1,207.6 346.5,222.8 369.9,208.0 393.2,215.0 416.6,222.6 440.0,217.6" fill="none" stroke="#f2508a" stroke-width="1" stroke-dasharray="1.1 1.35"/>
<polyline points="276.4,211.4 299.8,206.4 323.1,215.8 346.5,209.9 369.9,215.0 393.2,210.0 416.6,200.0 440.0,195.0" fill="none" stroke="#f2508a" stroke-width="1" stroke-dasharray="1.1 1.35"/>
<polyline points="276.4,211.4 299.8,220.0 323.1,219.3 346.5,233.3 369.9,225.0 393.2,228.9 416.6,218.0 440.0,215.0" fill="none" stroke="#f2508a" stroke-width="1" stroke-dasharray="1.1 1.35"/>
<polyline points="276.4,211.4 299.8,212.0 323.1,222.8 346.5,227.5 369.9,206.0 393.2,222.0 416.6,205.0 440.0,196.0" fill="none" stroke="#f2508a" stroke-width="1" stroke-dasharray="1.1 1.35"/>
<polyline points="276.4,211.4 299.8,228.6 323.1,227.5 346.5,236.8 369.9,230.0 393.2,246.5 416.6,240.0 440.0,225.0" fill="none" stroke="#f2508a" stroke-width="1" stroke-dasharray="1.1 1.35"/>
</g>
<line x1="265.10" y1="211.40" x2="450.50" y2="211.40" stroke="#000" stroke-width="0.9" stroke-dasharray="2.1 1.9"/>
<line x1="299.77" y1="202.00" x2="299.77" y2="223.90" stroke="#333" stroke-width="0.85" />
<line x1="298.17" y1="202.00" x2="301.37" y2="202.00" stroke="#333" stroke-width="0.85" />
<line x1="298.17" y1="223.90" x2="301.37" y2="223.90" stroke="#333" stroke-width="0.85" />
<line x1="323.14" y1="201.30" x2="323.14" y2="222.60" stroke="#333" stroke-width="0.85" />
<line x1="321.54" y1="201.30" x2="324.74" y2="201.30" stroke="#333" stroke-width="0.85" />
<line x1="321.54" y1="222.60" x2="324.74" y2="222.60" stroke="#333" stroke-width="0.85" />
<line x1="346.51" y1="204.50" x2="346.51" y2="233.20" stroke="#333" stroke-width="0.85" />
<line x1="344.91" y1="204.50" x2="348.11" y2="204.50" stroke="#333" stroke-width="0.85" />
<line x1="344.91" y1="233.20" x2="348.11" y2="233.20" stroke="#333" stroke-width="0.85" />
<line x1="369.88" y1="201.40" x2="369.88" y2="224.40" stroke="#333" stroke-width="0.85" />
<line x1="368.28" y1="201.40" x2="371.48" y2="201.40" stroke="#333" stroke-width="0.85" />
<line x1="368.28" y1="224.40" x2="371.48" y2="224.40" stroke="#333" stroke-width="0.85" />
<line x1="393.25" y1="197.00" x2="393.25" y2="226.40" stroke="#333" stroke-width="0.85" />
<line x1="391.65" y1="197.00" x2="394.85" y2="197.00" stroke="#333" stroke-width="0.85" />
<line x1="391.65" y1="226.40" x2="394.85" y2="226.40" stroke="#333" stroke-width="0.85" />
<line x1="416.62" y1="200.30" x2="416.62" y2="231.90" stroke="#333" stroke-width="0.85" />
<line x1="415.02" y1="200.30" x2="418.22" y2="200.30" stroke="#333" stroke-width="0.85" />
<line x1="415.02" y1="231.90" x2="418.22" y2="231.90" stroke="#333" stroke-width="0.85" />
<line x1="439.99" y1="187.70" x2="439.99" y2="217.50" stroke="#333" stroke-width="0.85" />
<line x1="438.39" y1="187.70" x2="441.59" y2="187.70" stroke="#333" stroke-width="0.85" />
<line x1="438.39" y1="217.50" x2="441.59" y2="217.50" stroke="#333" stroke-width="0.85" />
<polyline points="276.4,211.4 299.8,213.0 323.1,211.6 346.5,218.3 369.9,212.7 393.2,211.9 416.6,215.9 440.0,202.6" fill="none" stroke="#000" stroke-width="1.1"/>
<circle cx="276.4" cy="211.4" r="1.9" fill="#000"/>
<circle cx="299.8" cy="213.0" r="1.9" fill="#000"/>
<circle cx="323.1" cy="211.6" r="1.9" fill="#000"/>
<circle cx="346.5" cy="218.3" r="1.9" fill="#000"/>
<circle cx="369.9" cy="212.7" r="1.9" fill="#000"/>
<circle cx="393.2" cy="211.9" r="1.9" fill="#000"/>
<circle cx="416.6" cy="215.9" r="1.9" fill="#000"/>
<circle cx="440.0" cy="202.6" r="1.9" fill="#000"/>
<line x1="265.10" y1="167.60" x2="265.10" y2="275.40" stroke="#333" stroke-width="1.25" />
<line x1="264.50" y1="274.80" x2="450.50" y2="274.80" stroke="#333" stroke-width="1.25" />
<line x1="262.50" y1="269.40" x2="265.10" y2="269.40" stroke="#222" stroke-width="0.8" />
<text x="261.70" y="271.50" font-size="5.5" font-weight="bold" text-anchor="end" fill="#000"  stroke="#000" stroke-width="0.12">80</text>
<line x1="262.50" y1="240.30" x2="265.10" y2="240.30" stroke="#222" stroke-width="0.8" />
<text x="261.70" y="242.40" font-size="5.5" font-weight="bold" text-anchor="end" fill="#000"  stroke="#000" stroke-width="0.12">90</text>
<line x1="262.50" y1="211.40" x2="265.10" y2="211.40" stroke="#222" stroke-width="0.8" />
<text x="261.70" y="213.50" font-size="5.5" font-weight="bold" text-anchor="end" fill="#000"  stroke="#000" stroke-width="0.12">100</text>
<line x1="262.50" y1="182.60" x2="265.10" y2="182.60" stroke="#222" stroke-width="0.8" />
<text x="261.70" y="184.70" font-size="5.5" font-weight="bold" text-anchor="end" fill="#000"  stroke="#000" stroke-width="0.12">110</text>
<line x1="276.40" y1="274.80" x2="276.40" y2="277.20" stroke="#222" stroke-width="0.8" />
<text x="276.80" y="283.80" textLength="20.30" lengthAdjust="spacingAndGlyphs" font-size="5.3" font-weight="bold" text-anchor="middle" fill="#000"  stroke="#000" stroke-width="0.12">Baseline</text>
<line x1="299.77" y1="274.80" x2="299.77" y2="277.20" stroke="#222" stroke-width="0.8" />
<text x="299.77" y="284.00" font-size="5.6" font-weight="bold" text-anchor="middle" fill="#000"  stroke="#000" stroke-width="0.12">5</text>
<line x1="323.14" y1="274.80" x2="323.14" y2="277.20" stroke="#222" stroke-width="0.8" />
<text x="323.14" y="284.00" font-size="5.6" font-weight="bold" text-anchor="middle" fill="#000"  stroke="#000" stroke-width="0.12">20</text>
<line x1="346.51" y1="274.80" x2="346.51" y2="277.20" stroke="#222" stroke-width="0.8" />
<text x="346.51" y="284.00" font-size="5.6" font-weight="bold" text-anchor="middle" fill="#000"  stroke="#000" stroke-width="0.12">40</text>
<line x1="369.88" y1="274.80" x2="369.88" y2="277.20" stroke="#222" stroke-width="0.8" />
<text x="369.88" y="284.00" font-size="5.6" font-weight="bold" text-anchor="middle" fill="#000"  stroke="#000" stroke-width="0.12">80</text>
<line x1="393.25" y1="274.80" x2="393.25" y2="277.20" stroke="#222" stroke-width="0.8" />
<text x="393.25" y="284.00" font-size="5.6" font-weight="bold" text-anchor="middle" fill="#000"  stroke="#000" stroke-width="0.12">120</text>
<line x1="416.62" y1="274.80" x2="416.62" y2="277.20" stroke="#222" stroke-width="0.8" />
<text x="416.62" y="284.00" font-size="5.6" font-weight="bold" text-anchor="middle" fill="#000"  stroke="#000" stroke-width="0.12">180</text>
<line x1="439.99" y1="274.80" x2="439.99" y2="277.20" stroke="#222" stroke-width="0.8" />
<text x="439.99" y="284.00" font-size="5.6" font-weight="bold" text-anchor="middle" fill="#000"  stroke="#000" stroke-width="0.12">270</text>
<text x="357.80" y="296.80" textLength="36.00" lengthAdjust="spacingAndGlyphs" font-size="6.5" font-weight="bold" text-anchor="middle" fill="#000"  stroke="#000" stroke-width="0.12">Time (days)</text>
<text transform="translate(464.3,159.7) scale(0.9,1)" font-size="11.6" font-weight="bold" text-anchor="start" fill="#000"  stroke="#000" stroke-width="0.12">F</text>
<text transform="translate(471.5,219.9) rotate(-90)" textLength="86.60" lengthAdjust="spacingAndGlyphs" font-size="7.3" font-weight="bold" text-anchor="middle" fill="#000"  stroke="#000" stroke-width="0.12">Alkaline Phosphatase (U/L)</text>
<text transform="translate(481.4,220.2) rotate(-90)" textLength="71.00" lengthAdjust="spacingAndGlyphs" font-size="7.3" font-weight="bold" text-anchor="middle" fill="#000"  stroke="#000" stroke-width="0.12">normalized to baseline</text>
<clipPath id="cF"><rect x="496.7" y="166.5" width="188.3" height="108.19999999999999"/></clipPath>
<g clip-path="url(#cF)">
<polyline points="508.6,221.5 532.0,197.0 555.4,173.5 578.8,221.6 602.2,240.0 625.6,245.0 649.1,248.0 672.5,240.0" fill="none" stroke="#f2508a" stroke-width="1" stroke-dasharray="1.1 1.35"/>
<polyline points="508.6,221.5 532.0,193.3 555.4,204.6 578.8,226.0 602.2,227.7 625.6,210.6 649.1,205.8" fill="none" stroke="#f2508a" stroke-width="1" stroke-dasharray="1.1 1.35"/>
<polyline points="508.6,221.5 532.0,230.3 555.4,234.3 578.8,245.0 602.2,260.3 625.6,273.1 649.1,256.0 672.5,247.6" fill="none" stroke="#f2508a" stroke-width="1" stroke-dasharray="1.1 1.35"/>
<polyline points="508.6,221.5 532.0,204.3 555.4,203.5 578.8,220.0 602.2,234.8 625.6,223.4 649.1,237.6 672.5,210.6" fill="none" stroke="#f2508a" stroke-width="1" stroke-dasharray="1.1 1.35"/>
<polyline points="508.6,221.5 532.0,219.6 555.4,218.3 578.8,230.0 602.2,250.4 625.6,241.9 649.1,251.8 672.5,226.3" fill="none" stroke="#f2508a" stroke-width="1" stroke-dasharray="1.1 1.35"/>
<polyline points="508.6,221.5 532.0,223.6 555.4,229.0 578.8,236.0 602.2,253.2 625.6,249.0 649.1,258.9 672.5,231.9" fill="none" stroke="#f2508a" stroke-width="1" stroke-dasharray="1.1 1.35"/>
<polyline points="508.6,221.5 532.0,210.2 555.4,207.5 578.8,225.0 602.2,240.5 625.6,227.7 649.1,236.2 672.5,214.9" fill="none" stroke="#f2508a" stroke-width="1" stroke-dasharray="1.1 1.35"/>
<polyline points="508.6,221.5 532.0,226.3 555.4,239.7 578.8,240.0 602.2,246.1 625.6,253.2 649.1,247.6 672.5,237.6" fill="none" stroke="#f2508a" stroke-width="1" stroke-dasharray="1.1 1.35"/>
<polyline points="508.6,221.5 532.0,233.0 555.4,223.6 578.8,232.0 602.2,240.0 625.6,234.8 649.1,240.5 672.5,222.0" fill="none" stroke="#f2508a" stroke-width="1" stroke-dasharray="1.1 1.35"/>
<polyline points="508.6,221.5 532.0,226.0 555.4,228.0 578.8,238.0 602.2,256.1 625.6,263.2 649.1,252.0 672.5,230.0" fill="none" stroke="#f2508a" stroke-width="1" stroke-dasharray="1.1 1.35"/>
</g>
<line x1="496.70" y1="221.50" x2="682.50" y2="221.50" stroke="#000" stroke-width="0.9" stroke-dasharray="2.1 1.9"/>
<line x1="532.01" y1="214.30" x2="532.01" y2="225.10" stroke="#333" stroke-width="0.85" />
<line x1="530.41" y1="214.30" x2="533.61" y2="214.30" stroke="#333" stroke-width="0.85" />
<line x1="530.41" y1="225.10" x2="533.61" y2="225.10" stroke="#333" stroke-width="0.85" />
<line x1="555.42" y1="206.30" x2="555.42" y2="228.90" stroke="#333" stroke-width="0.85" />
<line x1="553.82" y1="206.30" x2="557.02" y2="206.30" stroke="#333" stroke-width="0.85" />
<line x1="553.82" y1="228.90" x2="557.02" y2="228.90" stroke="#333" stroke-width="0.85" />
<line x1="578.83" y1="225.10" x2="578.83" y2="239.00" stroke="#333" stroke-width="0.85" />
<line x1="577.23" y1="225.10" x2="580.43" y2="225.10" stroke="#333" stroke-width="0.85" />
<line x1="577.23" y1="239.00" x2="580.43" y2="239.00" stroke="#333" stroke-width="0.85" />
<line x1="602.24" y1="240.20" x2="602.24" y2="252.30" stroke="#333" stroke-width="0.85" />
<line x1="600.64" y1="240.20" x2="603.84" y2="240.20" stroke="#333" stroke-width="0.85" />
<line x1="600.64" y1="252.30" x2="603.84" y2="252.30" stroke="#333" stroke-width="0.85" />
<line x1="625.65" y1="230.20" x2="625.65" y2="253.30" stroke="#333" stroke-width="0.85" />
<line x1="624.05" y1="230.20" x2="627.25" y2="230.20" stroke="#333" stroke-width="0.85" />
<line x1="624.05" y1="253.30" x2="627.25" y2="253.30" stroke="#333" stroke-width="0.85" />
<line x1="649.06" y1="237.20" x2="649.06" y2="257.00" stroke="#333" stroke-width="0.85" />
<line x1="647.46" y1="237.20" x2="650.66" y2="237.20" stroke="#333" stroke-width="0.85" />
<line x1="647.46" y1="257.00" x2="650.66" y2="257.00" stroke="#333" stroke-width="0.85" />
<line x1="672.47" y1="224.60" x2="672.47" y2="247.20" stroke="#333" stroke-width="0.85" />
<line x1="670.87" y1="224.60" x2="674.07" y2="224.60" stroke="#333" stroke-width="0.85" />
<line x1="670.87" y1="247.20" x2="674.07" y2="247.20" stroke="#333" stroke-width="0.85" />
<polyline points="508.6,221.5 532.0,219.6 555.4,218.1 578.8,232.2 602.2,246.5 625.6,241.5 649.1,247.0 672.5,236.4" fill="none" stroke="#000" stroke-width="1.1"/>
<circle cx="508.6" cy="221.5" r="1.9" fill="#000"/>
<circle cx="532.0" cy="219.6" r="1.9" fill="#000"/>
<circle cx="555.4" cy="218.1" r="1.9" fill="#000"/>
<circle cx="578.8" cy="232.2" r="1.9" fill="#000"/>
<circle cx="602.2" cy="246.5" r="1.9" fill="#000"/>
<circle cx="625.6" cy="241.5" r="1.9" fill="#000"/>
<circle cx="649.1" cy="247.0" r="1.9" fill="#000"/>
<circle cx="672.5" cy="236.4" r="1.9" fill="#000"/>
<line x1="496.70" y1="168.00" x2="496.70" y2="275.30" stroke="#333" stroke-width="1.25" />
<line x1="496.10" y1="274.70" x2="685.00" y2="274.70" stroke="#333" stroke-width="1.25" />
<line x1="494.10" y1="274.60" x2="496.70" y2="274.60" stroke="#222" stroke-width="0.8" />
<text x="493.30" y="276.70" font-size="5.5" font-weight="bold" text-anchor="end" fill="#000"  stroke="#000" stroke-width="0.12">50</text>
<line x1="494.10" y1="221.50" x2="496.70" y2="221.50" stroke="#222" stroke-width="0.8" />
<text x="493.30" y="223.60" font-size="5.5" font-weight="bold" text-anchor="end" fill="#000"  stroke="#000" stroke-width="0.12">100</text>
<line x1="494.10" y1="168.20" x2="496.70" y2="168.20" stroke="#222" stroke-width="0.8" />
<text x="493.30" y="170.30" font-size="5.5" font-weight="bold" text-anchor="end" fill="#000"  stroke="#000" stroke-width="0.12">150</text>
<line x1="508.60" y1="274.70" x2="508.60" y2="277.10" stroke="#222" stroke-width="0.8" />
<text x="509.00" y="283.80" textLength="20.30" lengthAdjust="spacingAndGlyphs" font-size="5.3" font-weight="bold" text-anchor="middle" fill="#000"  stroke="#000" stroke-width="0.12">Baseline</text>
<line x1="532.01" y1="274.70" x2="532.01" y2="277.10" stroke="#222" stroke-width="0.8" />
<text x="532.01" y="284.00" font-size="5.6" font-weight="bold" text-anchor="middle" fill="#000"  stroke="#000" stroke-width="0.12">5</text>
<line x1="555.42" y1="274.70" x2="555.42" y2="277.10" stroke="#222" stroke-width="0.8" />
<text x="555.42" y="284.00" font-size="5.6" font-weight="bold" text-anchor="middle" fill="#000"  stroke="#000" stroke-width="0.12">20</text>
<line x1="578.83" y1="274.70" x2="578.83" y2="277.10" stroke="#222" stroke-width="0.8" />
<text x="578.83" y="284.00" font-size="5.6" font-weight="bold" text-anchor="middle" fill="#000"  stroke="#000" stroke-width="0.12">40</text>
<line x1="602.24" y1="274.70" x2="602.24" y2="277.10" stroke="#222" stroke-width="0.8" />
<text x="602.24" y="284.00" font-size="5.6" font-weight="bold" text-anchor="middle" fill="#000"  stroke="#000" stroke-width="0.12">80</text>
<line x1="625.65" y1="274.70" x2="625.65" y2="277.10" stroke="#222" stroke-width="0.8" />
<text x="625.65" y="284.00" font-size="5.6" font-weight="bold" text-anchor="middle" fill="#000"  stroke="#000" stroke-width="0.12">120</text>
<line x1="649.06" y1="274.70" x2="649.06" y2="277.10" stroke="#222" stroke-width="0.8" />
<text x="649.06" y="284.00" font-size="5.6" font-weight="bold" text-anchor="middle" fill="#000"  stroke="#000" stroke-width="0.12">180</text>
<line x1="672.47" y1="274.70" x2="672.47" y2="277.10" stroke="#222" stroke-width="0.8" />
<text x="672.47" y="284.00" font-size="5.6" font-weight="bold" text-anchor="middle" fill="#000"  stroke="#000" stroke-width="0.12">270</text>
<text x="590.85" y="296.80" textLength="36.00" lengthAdjust="spacingAndGlyphs" font-size="6.5" font-weight="bold" text-anchor="middle" fill="#000"  stroke="#000" stroke-width="0.12">Time (days)</text>
<line x1="507.30" y1="167.50" x2="578.90" y2="167.50" stroke="#444" stroke-width="1" />
<line x1="507.30" y1="170.40" x2="602.20" y2="170.40" stroke="#444" stroke-width="1" />
<line x1="507.30" y1="173.70" x2="625.80" y2="173.70" stroke="#444" stroke-width="1" />
<line x1="507.30" y1="177.40" x2="649.10" y2="177.40" stroke="#444" stroke-width="1" />
<line x1="507.30" y1="190.50" x2="672.50" y2="190.50" stroke="#222" stroke-width="1" />
<text x="543.00" y="167.70" font-size="7.6" font-weight="bold" text-anchor="middle" fill="#000"  stroke="#000" stroke-width="0.12">***</text>
<text x="589.70" y="190.00" font-size="7.6" font-weight="bold" text-anchor="middle" fill="#000"  stroke="#000" stroke-width="0.12">**</text>
</svg>
</body></html>
